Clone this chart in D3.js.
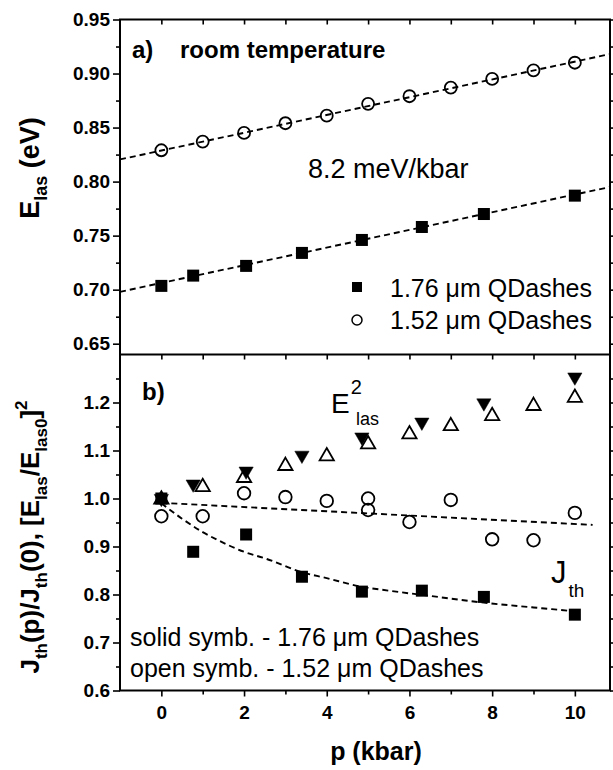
<!doctype html>
<html>
<head>
<meta charset="utf-8">
<script src="https://d3js.org/d3.v7.min.js"></script>
<style>
body { margin: 0; background: #fff; }
text { font-family: Arial, "Liberation Sans", sans-serif; fill: #000; }
</style>
</head>
<body>
<div id="viz"></div>
<script>

// panel a) lasing energy (eV) vs pressure (kbar)
var pA176 = [0, 0.77, 2.05, 3.4, 4.85, 6.3, 7.8, 10]
var eA176 = [0.7035, 0.713, 0.722, 0.734, 0.746, 0.758, 0.770, 0.787]
var pA152 = [0, 1, 2, 3, 4, 5, 6, 7, 8, 9, 10]
var eA152 = [0.829, 0.837, 0.845, 0.854, 0.861, 0.872, 0.879, 0.887, 0.895, 0.903, 0.910]
// linear fits (end points)
var fitA176p = [-1, 10.85], fitA176e = [0.698, 0.795]
var fitA152p = [-1, 10.85], fitA152e = [0.8205, 0.918]

// panel b) normalised Jth and E_las^2
var pB176 = [0, 0.77, 2.05, 3.4, 4.85, 6.3, 7.8, 10]
var jB176 = [1.0, 0.889, 0.925, 0.837, 0.806, 0.808, 0.795, 0.758]
var e2B176 = [1.0, 1.030, 1.057, 1.09, 1.128, 1.159, 1.199, 1.253]
var pB152 = [0, 1, 2, 3, 4, 5, 6, 7, 8, 9, 10]
var e2B152 = [1.0, 1.026, 1.045, 1.07, 1.09, 1.115, 1.136, 1.153, 1.174, 1.195, 1.212]
var pJ152 = [0, 1, 2, 3, 4, 5, 5, 6, 7, 8, 9, 10]
var jB152 = [0.963, 0.963, 1.011, 1.003, 0.995, 1.0, 0.976, 0.951, 0.997, 0.915, 0.913, 0.970]
// dashed guide curves
var fitJ152p = [0, 10.43], fitJ152v = [0.991, 0.945]
var fitJ176p = [0, 0.5, 1, 1.35, 2, 2.55, 3.38, 4, 4.85, 5.5, 6.5, 7.8, 9, 10]
var fitJ176v = [0.99, 0.958, 0.93, 0.914, 0.889, 0.874, 0.847, 0.834, 0.816, 0.808, 0.797, 0.783, 0.773, 0.765]

var xTicks = [0, 2, 4, 6, 8, 10]
var xMinor = [1, 3, 5, 7, 9]
var yATicks = [0.65, 0.70, 0.75, 0.80, 0.85, 0.90, 0.95]
var yAMinor = [0.675, 0.725, 0.775, 0.825, 0.875, 0.925]
var yBTicks = [0.6, 0.7, 0.8, 0.9, 1.0, 1.1, 1.2]
var yBMinor = [0.65, 0.75, 0.85, 0.95, 1.05, 1.15, 1.25]

var L = 120, R = 610, T = 19.5, M = 354.5, B = 690.5

var svg = d3.select('#viz').append('svg')
  .attr('width', 613)
  .attr('height', 770)

svg.append('rect').attr('width', 613).attr('height', 770).attr('fill', '#fff')

var x = d3.scaleLinear().domain([-1, 10.85]).range([L, R])
var yA = d3.scaleLinear().domain([0.64, 0.95]).range([M, T])
var yB = d3.scaleLinear().domain([0.6, 1.3]).range([B, M])

var zip = function(a, b) { return a.map(function(v, i) { return [v, b[i]] }) }

function styleAxis(g, fs) {
  g.attr('font-family', null).attr('font-size', null)
  g.select('.domain').remove()
  g.selectAll('line').attr('stroke', '#000').attr('stroke-width', 1.6)
  g.selectAll('text').style('font-size', fs + 'px').style('font-weight', 'bold')
}

// ---- axes panel a
svg.append('g').attr('transform', 'translate(' + L + ',0)')
  .call(d3.axisLeft(yA).tickValues(yATicks).tickSize(7).tickPadding(3).tickFormat(d3.format('.2f')))
  .call(styleAxis, 19)
svg.append('g').attr('transform', 'translate(' + L + ',0)')
  .call(d3.axisLeft(yA).tickValues(yAMinor).tickSize(4).tickFormat(''))
  .call(styleAxis, 19)
svg.append('g').attr('transform', 'translate(' + R + ',0)')
  .call(d3.axisRight(yA).tickValues(yATicks.concat(yAMinor)).tickSize(4).tickFormat(''))
  .call(styleAxis, 19)
svg.append('g').attr('transform', 'translate(0,' + T + ')')
  .call(d3.axisBottom(x).tickValues(xTicks.concat(xMinor)).tickSize(5).tickFormat(''))
  .call(styleAxis, 19)

// ---- axes panel b
svg.append('g').attr('transform', 'translate(' + L + ',0)')
  .call(d3.axisLeft(yB).tickValues(yBTicks).tickSize(7).tickPadding(3).tickFormat(d3.format('.1f')))
  .call(styleAxis, 19)
svg.append('g').attr('transform', 'translate(' + L + ',0)')
  .call(d3.axisLeft(yB).tickValues(yBMinor).tickSize(4).tickFormat(''))
  .call(styleAxis, 19)
svg.append('g').attr('transform', 'translate(' + R + ',0)')
  .call(d3.axisRight(yB).tickValues(yBTicks.concat(yBMinor)).tickSize(4).tickFormat(''))
  .call(styleAxis, 19)
svg.append('g').attr('transform', 'translate(0,' + M + ')')
  .call(d3.axisBottom(x).tickValues(xTicks.concat(xMinor)).tickSize(5).tickFormat(''))
  .call(styleAxis, 19)
svg.append('g').attr('transform', 'translate(0,' + B + ')')
  .call(d3.axisBottom(x).tickValues(xTicks).tickSize(6).tickPadding(9).tickFormat(d3.format('d')))
  .call(styleAxis, 19)
svg.append('g').attr('transform', 'translate(0,' + B + ')')
  .call(d3.axisBottom(x).tickValues(xMinor).tickSize(4).tickFormat(''))
  .call(styleAxis, 19)

// frames
svg.append('rect').attr('x', L).attr('y', T).attr('width', R - L).attr('height', B - T)
  .attr('fill', 'none').attr('stroke', '#000').attr('stroke-width', 2)
svg.append('line').attr('x1', L).attr('x2', R).attr('y1', M).attr('y2', M)
  .attr('stroke', '#000').attr('stroke-width', 2)

// ---- dashed fits
var line = d3.line().x(function(d) { return x(d[0]) })
function dashed(pts, ys, curve) {
  svg.append('path').datum(pts)
    .attr('d', line.y(function(d) { return ys(d[1]) }).curve(curve || d3.curveLinear))
    .attr('fill', 'none').attr('stroke', '#000').attr('stroke-width', 1.9)
    .attr('stroke-dasharray', '6,4')
}
dashed(zip(fitA176p, fitA176e), yA)
dashed(zip(fitA152p, fitA152e), yA)
dashed(zip(fitJ152p, fitJ152v), yB)
dashed(zip(fitJ176p, fitJ176v), yB, d3.curveMonotoneX)

// ---- markers
function squares(pts, ys, s) {
  svg.append('g').selectAll('rect').data(pts).enter().append('rect')
    .attr('x', function(d) { return x(d[0]) - s / 2 })
    .attr('y', function(d) { return ys(d[1]) - s / 2 })
    .attr('width', s).attr('height', s).attr('fill', '#000')
}
function circles(pts, ys, r) {
  svg.append('g').selectAll('circle').data(pts).enter().append('circle')
    .attr('cx', function(d) { return x(d[0]) })
    .attr('cy', function(d) { return ys(d[1]) })
    .attr('r', r).attr('fill', 'none').attr('stroke', '#000').attr('stroke-width', 1.8)
}
function triangles(pts, ys, down) {
  var sym = d3.symbol().type(d3.symbolTriangle).size(88)
  svg.append('g').selectAll('path').data(pts).enter().append('path')
    .attr('d', sym)
    .attr('transform', function(d) {
      return 'translate(' + x(d[0]) + ',' + (ys(d[1]) + (down ? 0 : 1)) + ')' + (down ? ' rotate(180)' : '')
    })
    .attr('fill', down ? '#000' : 'none')
    .attr('stroke', '#000').attr('stroke-width', down ? 0.5 : 1.8)
}

circles(zip(pA152, eA152), yA, 6)
squares(zip(pA176, eA176), yA, 12)

circles(zip(pJ152, jB152), yB, 6.3)
triangles(zip(pB152, e2B152), yB, false)
triangles(zip(pB176, e2B176), yB, true)
squares(zip(pB176, jB176), yB, 12)

// ---- texts
function txt(xp, yp, s, fs, bold) {
  return svg.append('text').attr('x', xp).attr('y', yp).text(s)
    .style('font-size', fs + 'px').style('font-weight', bold ? 'bold' : 'normal')
}
txt(132, 58, 'a)', 24, true)
txt(180, 58, 'room temperature', 24, true)
txt(308, 178, '8.2 meV/kbar', 27, false)

// legend a
svg.append('rect').attr('x', 352).attr('y', 282).attr('width', 10).attr('height', 10).attr('fill', '#000')
svg.append('circle').attr('cx', 357).attr('cy', 320).attr('r', 5).attr('fill', 'none').attr('stroke', '#000').attr('stroke-width', 1.5)
txt(390, 297, '1.76 \u03bcm QDashes', 25, false)
txt(390, 329, '1.52 \u03bcm QDashes', 25, false)

txt(142, 400, 'b)', 24, true)

var e2 = svg.append('text').attr('x', 331).attr('y', 413).style('font-size', '28px')
e2.append('tspan').text('E')
e2.append('tspan').attr('dy', -19).attr('dx', 1).style('font-size', '20px').text('2')
e2.append('tspan').attr('x', 356).attr('y', 425).style('font-size', '18px').text('las')

var jt = svg.append('text').attr('x', 551).attr('y', 583).style('font-size', '31px')
jt.append('tspan').text('J')
jt.append('tspan').attr('dy', 14).attr('dx', 2).style('font-size', '19px').text('th')

txt(130, 646, 'solid symb. - 1.76 \u03bcm QDashes', 25, false)
txt(130, 677, 'open symb. - 1.52 \u03bcm QDashes', 25, false)

// axis titles
txt(376, 760, 'p (kbar)', 25, true).attr('text-anchor', 'middle')

var ta = svg.append('text').attr('transform', 'translate(39,168) rotate(-90)')
  .attr('text-anchor', 'middle').style('font-size', '27px').style('font-weight', 'bold')
ta.append('tspan').text('E')
ta.append('tspan').attr('dy', 8).style('font-size', '18px').text('las')
ta.append('tspan').attr('dy', -8).text(' (eV)')

var tb = svg.append('text').attr('transform', 'translate(39,537) rotate(-90)')
  .attr('text-anchor', 'middle').style('font-size', '26px').style('font-weight', 'bold')
tb.append('tspan').text('J')
tb.append('tspan').attr('dy', 8).style('font-size', '17px').text('th')
tb.append('tspan').attr('dy', -8).text('(p)/J')
tb.append('tspan').attr('dy', 8).style('font-size', '17px').text('th')
tb.append('tspan').attr('dy', -8).text('(0), [E')
tb.append('tspan').attr('dy', 8).style('font-size', '17px').text('las')
tb.append('tspan').attr('dy', -8).text('/E')
tb.append('tspan').attr('dy', 8).style('font-size', '17px').text('las0')
tb.append('tspan').attr('dy', -8).text(']')
tb.append('tspan').attr('dy', -12).style('font-size', '17px').text('2')

</script>
</body>
</html>
